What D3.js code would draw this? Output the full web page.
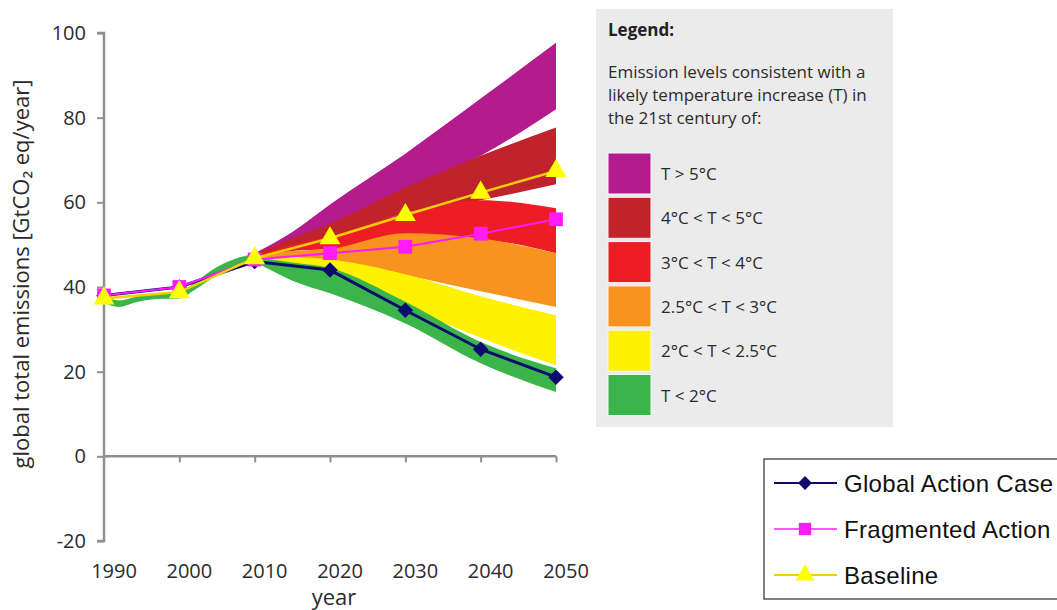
<!DOCTYPE html>
<html>
<head>
<meta charset="utf-8">
<script src="https://cdn.jsdelivr.net/npm/d3@7"></script>
<style>
  body { margin: 0; background: #fff; }
  svg { display: block; }
</style>
</head>
<body>
<div id="chart"></div>
<script>
// Data
const histYears = [1990, 1992, 1994, 1996, 1998, 2000, 2002, 2005, 2008, 2010];
const histLow   = [36.3, 35.3, 36.3, 37.0, 37.2, 37.3, 39.3, 42.8, 45.5, 46.3];
const histHigh  = [37.8, 36.8, 37.6, 38.3, 38.6, 38.8, 41.0, 44.7, 47.0, 47.8];

const bandYears = [2010, 2015, 2020, 2030, 2040, 2050];
const bandNames = ["T > 5°C", "4°C < T < 5°C", "3°C < T < 4°C", "2.5°C < T < 3°C", "2°C < T < 2.5°C", "T < 2°C"];
const bandColors = ["#b41c8e", "#c1232d", "#ee1c25", "#f7931e", "#fff200", "#3bb44a"];
const bandLow = [
  [47.2, 50.0, 54.5, 63.0, 71.0, 82.0],
  [47.0, 49.5, 51.5, 57.5, 60.5, 64.3],
  [46.8, 48.5, 49.0, 51.0, 51.0, 48.0],
  [46.5, 47.0, 46.0, 42.8, 39.0, 35.3],
  [46.2, 45.3, 43.6, 35.5, 28.0, 21.5],
  [46.0, 41.5, 38.5, 31.4, 22.0, 15.2]
];
const bandHigh = [
  [48.0, 53.0, 59.5, 71.5, 84.5, 97.7],
  [47.8, 51.5, 55.0, 63.5, 71.0, 77.7],
  [47.5, 50.0, 52.0, 57.5, 60.5, 58.6],
  [47.2, 48.5, 49.0, 52.7, 51.5, 48.0],
  [47.0, 47.0, 46.5, 43.0, 37.8, 33.3],
  [47.0, 45.8, 44.5, 36.5, 27.0, 20.8]
];

const caseYears = [1990, 2000, 2010, 2020, 2030, 2040, 2050];
const globalAction = [38.0, 40.0, 46.0, 44.0, 34.5, 25.3, 18.7];
const fragmented   = [38.0, 40.0, 46.5, 48.0, 49.5, 52.6, 56.0];
const baseline     = [37.3, 38.8, 46.8, 51.5, 57.0, 62.3, 67.4];

const xTicks = [1990, 2000, 2010, 2020, 2030, 2040, 2050];
const yTicks = [-20, 0, 20, 40, 60, 80, 100];

const width = 1057, height = 610;
const font = "'Open Sans', sans-serif";

const svg = d3.select("#chart")
  .append("svg")
  .attr("width", width)
  .attr("height", height);

const x = d3.scaleLinear().domain([1990, 2050]).range([104, 556]);
const y = d3.scaleLinear().domain([-20, 100]).range([541, 33]);

// Temperature bands
const area = d3.area()
  .x(d => x(d.year))
  .y0(d => y(d.lo))
  .y1(d => y(d.hi))
  .curve(d3.curveMonotoneX);

bandNames.forEach((name, i) => {
  const pts = bandYears.map((yr, j) => ({ year: yr, lo: bandLow[i][j], hi: bandHigh[i][j] }));
  svg.append("path")
    .datum(pts)
    .attr("fill", bandColors[i])
    .attr("d", area);
});

// historic emissions (thin green band)
svg.append("path")
  .datum(histYears.map((yr, j) => ({ year: yr, lo: histLow[j], hi: histHigh[j] })))
  .attr("fill", "#3bb44a")
  .attr("d", area);

// Axes
const axisColor = "#8f8f8f";
const yAxis = svg.append("g")
  .attr("transform", `translate(${x(1990)},0)`)
  .call(d3.axisLeft(y).tickValues(yTicks).tickSize(7).tickPadding(11).tickFormat(d => String(d)));
yAxis.select(".domain").attr("stroke", axisColor).attr("stroke-width", 2.5)
  .attr("d", `M-7,${y(-20)}H0V${y(100)}H-7`);
yAxis.selectAll(".tick line").attr("stroke", axisColor).attr("stroke-width", 2);
yAxis.selectAll(".tick text")
  .attr("fill", "#2b2b2b")
  .style("font-family", font)
  .style("font-size", "20px");

const xAxis = svg.append("g")
  .attr("transform", `translate(0,${y(0)})`)
  .call(d3.axisBottom(x).tickValues(xTicks.slice(1)).tickSize(6).tickFormat(""));
xAxis.select(".domain").attr("stroke", axisColor).attr("stroke-width", 2.5)
  .attr("d", `M${x(1990)},0H${x(2050)}`);
xAxis.selectAll(".tick line").attr("stroke", axisColor).attr("stroke-width", 2);

svg.append("g")
  .selectAll("text")
  .data(xTicks)
  .join("text")
  .attr("x", d => x(d) + 10)
  .attr("y", 578)
  .attr("text-anchor", "middle")
  .attr("fill", "#2b2b2b")
  .style("font-family", font)
  .style("font-size", "20px")
  .text(d => d);

svg.append("text")
  .attr("x", 334)
  .attr("y", 605)
  .attr("text-anchor", "middle")
  .attr("fill", "#2b2b2b")
  .style("font-family", font)
  .style("font-size", "22px")
  .text("year");

svg.append("text")
  .attr("transform", "translate(29,274) rotate(-90)")
  .attr("text-anchor", "middle")
  .attr("fill", "#2b2b2b")
  .style("font-family", font)
  .style("font-size", "22px")
  .text("global total emissions [GtCO₂ eq/year]");

// Scenario lines
const series = [
  { name: "Global Action Case", values: globalAction, color: "#0c0c6e", width: 3, symbol: d3.symbolSquare, rot: 45, size: 120, fill: "#0c0c6e" },
  { name: "Fragmented Action", values: fragmented, color: "#ff1aff", width: 2, symbol: d3.symbolSquare, rot: 0, size: 190, fill: "#ff1aff" },
  { name: "Baseline", values: baseline, color: "#f0d000", width: 2.5, symbol: d3.symbolTriangle, rot: 0, size: 190, fill: "#ffff00" }
];

const line = d3.line().x(d => x(d.year)).y(d => y(d.v));

series.forEach(s => {
  const pts = caseYears.map((yr, j) => ({ year: yr, v: s.values[j] }));
  svg.append("path")
    .datum(pts)
    .attr("fill", "none")
    .attr("stroke", s.color)
    .attr("stroke-width", s.width)
    .attr("d", line);
  svg.append("g")
    .selectAll("path")
    .data(pts)
    .join("path")
    .attr("transform", d => `translate(${x(d.year)},${y(d.v)}) rotate(${s.rot})`)
    .attr("fill", s.fill)
    .attr("d", d3.symbol().type(s.symbol).size(s.size));
});

// Temperature legend panel
const leg = svg.append("g");
leg.append("rect")
  .attr("x", 596).attr("y", 9)
  .attr("width", 297).attr("height", 418)
  .attr("fill", "#ebebeb");

leg.append("text")
  .attr("x", 608).attr("y", 36)
  .attr("fill", "#222")
  .style("font-family", font)
  .style("font-size", "17px")
  .style("font-weight", "bold")
  .text("Legend:");

["Emission levels consistent with a", "likely temperature increase (T) in", "the 21st century of:"]
  .forEach((t, i) => {
    leg.append("text")
      .attr("x", 608).attr("y", 78 + i * 23)
      .attr("fill", "#2b2b2b")
      .style("font-family", font)
      .style("font-size", "17px")
      .text(t);
  });

const item = leg.selectAll("g.item")
  .data(bandNames)
  .join("g")
  .attr("class", "item")
  .attr("transform", (d, i) => `translate(608,${153 + i * 44.3})`);
item.append("rect")
  .attr("width", 43).attr("height", 41)
  .attr("fill", (d, i) => bandColors[i])
  .attr("stroke", "#f6f6f6").attr("stroke-width", 1);
item.append("text")
  .attr("x", 53).attr("y", 27)
  .attr("fill", "#2b2b2b")
  .style("font-family", font)
  .style("font-size", "17px")
  .text(d => d);

// Scenario legend
const leg2 = svg.append("g");
leg2.append("rect")
  .attr("x", 764).attr("y", 459)
  .attr("width", 310).attr("height", 140)
  .attr("fill", "#fff")
  .attr("stroke", "#555").attr("stroke-width", 1.5);

series.forEach((s, i) => {
  const cy = 483 + i * 46;
  leg2.append("line")
    .attr("x1", 774).attr("x2", 837)
    .attr("y1", cy).attr("y2", cy)
    .attr("stroke", s.color).attr("stroke-width", s.width > 2 ? 2 : 1.5);
  leg2.append("path")
    .attr("transform", `translate(805,${cy}) rotate(${s.rot})`)
    .attr("fill", s.fill)
    .attr("d", d3.symbol().type(s.symbol).size(s.size * 0.8));
  leg2.append("text")
    .attr("x", 844).attr("y", cy + 9)
    .attr("fill", "#111")
    .style("font-family", "'Liberation Sans', Arial, sans-serif")
    .style("font-size", "24px")
    .style("letter-spacing", "0.3px")
    .text(s.name);
});
</script>
</body>
</html>
